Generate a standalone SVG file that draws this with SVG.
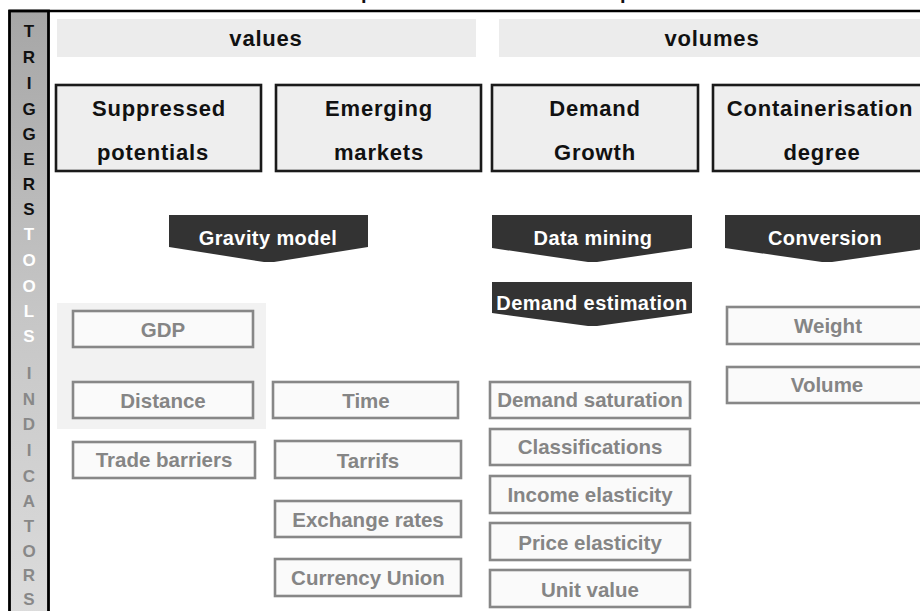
<svg xmlns="http://www.w3.org/2000/svg" width="920" height="611" viewBox="0 0 920 611">
  <defs>
    <linearGradient id="sideGrad" x1="0" y1="0" x2="0" y2="1">
      <stop offset="0" stop-color="#a6a6a6"/>
      <stop offset="0.5" stop-color="#c6c6c6"/>
      <stop offset="1" stop-color="#dcdcdc"/>
    </linearGradient>
    <style>
      text { font-family: "Liberation Sans", Arial, sans-serif; font-weight: bold; }
      .band { fill: #ececec; }
      .bandText { font-size: 22px; fill: #111; text-anchor: middle; letter-spacing: 0.8px; }
      .trigger rect { fill: #eeeeee; stroke: #1a1a1a; stroke-width: 2.6; }
      .trigger text { font-size: 22px; fill: #111; text-anchor: middle; letter-spacing: 0.8px; }
      .tool polygon { fill: #333333; }
      .tool text { font-size: 20px; fill: #ffffff; text-anchor: middle; letter-spacing: 0.4px; }
      .ind rect { fill: #fafafa; stroke: #878787; stroke-width: 2.6; }
      .ind text { font-size: 20.5px; fill: #858585; text-anchor: middle; }
      .side { font-size: 17px; text-anchor: middle; }
    </style>
  </defs>

  <rect width="920" height="611" fill="#ffffff"/>

  <!-- title line sits above the frame; only its descenders fall inside the canvas -->
  <text x="361" y="-1" style="font-size:20px;fill:#111">p</text>
  <text x="620" y="-1" style="font-size:20px;fill:#111">p</text>

  <!-- frame top rule -->
  <line x1="9" y1="11" x2="920" y2="11" stroke="#000" stroke-width="2.6"/>

  <!-- side column -->
  <g id="side-column">
    <rect x="9.5" y="11" width="39" height="605" fill="url(#sideGrad)" stroke="#000" stroke-width="2.8"/>
    <g class="side" fill="#111">
      <text x="29" y="37">T</text>
      <text x="29" y="63">R</text>
      <text x="29" y="89">I</text>
      <text x="29" y="115">G</text>
      <text x="29" y="140">G</text>
      <text x="29" y="165">E</text>
      <text x="29" y="190">R</text>
      <text x="29" y="215">S</text>
    </g>
    <g class="side" fill="#ffffff">
      <text x="29" y="240">T</text>
      <text x="29" y="266">O</text>
      <text x="29" y="292">O</text>
      <text x="29" y="317">L</text>
      <text x="29" y="342">S</text>
    </g>
    <g class="side" fill="#888888">
      <text x="29" y="379">I</text>
      <text x="29" y="405">N</text>
      <text x="29" y="430">D</text>
      <text x="29" y="456">I</text>
      <text x="29" y="482">C</text>
      <text x="29" y="507">A</text>
      <text x="29" y="532">T</text>
      <text x="29" y="557">O</text>
      <text x="29" y="581">R</text>
      <text x="29" y="605">S</text>
    </g>
  </g>

  <!-- value / volume bands -->
  <g id="band-values">
    <rect class="band" x="57" y="19" width="419" height="38"/>
    <text class="bandText" x="266" y="46">values</text>
  </g>
  <g id="band-volumes">
    <rect class="band" x="499" y="19" width="430" height="38"/>
    <text class="bandText" x="712" y="46">volumes</text>
  </g>

  <!-- triggers -->
  <g id="trigger-suppressed" class="trigger">
    <rect x="56" y="85" width="205" height="86"/>
    <text x="159" y="116">Suppressed</text>
    <text x="153" y="160">potentials</text>
  </g>
  <g id="trigger-emerging" class="trigger">
    <rect x="276" y="85" width="205" height="86"/>
    <text x="379" y="116">Emerging</text>
    <text x="379" y="160">markets</text>
  </g>
  <g id="trigger-demand" class="trigger">
    <rect x="492" y="85" width="206" height="86"/>
    <text x="595" y="116">Demand</text>
    <text x="595" y="160">Growth</text>
  </g>
  <g id="trigger-containerisation" class="trigger">
    <rect x="713" y="85" width="220" height="86"/>
    <text x="820" y="116">Containerisation</text>
    <text x="822" y="160">degree</text>
  </g>

  <!-- tools -->
  <g id="tool-gravity" class="tool">
    <polygon points="169,215 368,215 368,247 274,262 264,262 169,247"/>
    <text x="268" y="245">Gravity model</text>
  </g>
  <g id="tool-datamining" class="tool">
    <polygon points="492,215 692,215 692,248 597,262 588,262 492,248"/>
    <text x="593" y="245">Data mining</text>
  </g>
  <g id="tool-conversion" class="tool">
    <polygon points="725,215 930,215 930,248 832,262 822,262 725,248"/>
    <text x="825" y="245">Conversion</text>
  </g>
  <g id="tool-demand-estimation" class="tool">
    <polygon points="492,282 692,282 692,313 597,326 588,326 492,313"/>
    <text x="592" y="310">Demand estimation</text>
  </g>

  <!-- gravity model core inputs -->
  <rect id="gravity-core" x="57" y="303" width="209" height="126" fill="#f2f2f2"/>

  <!-- indicators -->
  <g id="ind-gdp" class="ind">
    <rect x="73" y="311" width="180" height="36"/>
    <text x="163" y="337">GDP</text>
  </g>
  <g id="ind-distance" class="ind">
    <rect x="73" y="382" width="180" height="36"/>
    <text x="163" y="408">Distance</text>
  </g>
  <g id="ind-trade-barriers" class="ind">
    <rect x="73" y="442" width="182" height="36"/>
    <text x="164" y="467">Trade barriers</text>
  </g>
  <g id="ind-time" class="ind">
    <rect x="273" y="382" width="185" height="36"/>
    <text x="366" y="408">Time</text>
  </g>
  <g id="ind-tarrifs" class="ind">
    <rect x="275" y="441" width="186" height="37"/>
    <text x="368" y="468">Tarrifs</text>
  </g>
  <g id="ind-exchange" class="ind">
    <rect x="275" y="501" width="186" height="36"/>
    <text x="368" y="527">Exchange rates</text>
  </g>
  <g id="ind-currency" class="ind">
    <rect x="275" y="559" width="186" height="37"/>
    <text x="368" y="585">Currency Union</text>
  </g>
  <g id="ind-saturation" class="ind">
    <rect x="490" y="382" width="200" height="36"/>
    <text x="590" y="407">Demand saturation</text>
  </g>
  <g id="ind-classifications" class="ind">
    <rect x="490" y="429" width="200" height="36"/>
    <text x="590" y="454">Classifications</text>
  </g>
  <g id="ind-income" class="ind">
    <rect x="490" y="476" width="200" height="37"/>
    <text x="590" y="502">Income elasticity</text>
  </g>
  <g id="ind-price" class="ind">
    <rect x="490" y="523" width="200" height="37"/>
    <text x="590" y="550">Price elasticity</text>
  </g>
  <g id="ind-unit-value" class="ind">
    <rect x="490" y="570" width="200" height="37"/>
    <text x="590" y="597">Unit value</text>
  </g>
  <g id="ind-weight" class="ind">
    <rect x="727" y="307" width="205" height="37"/>
    <text x="828" y="333">Weight</text>
  </g>
  <g id="ind-volume" class="ind">
    <rect x="727" y="367" width="205" height="36"/>
    <text x="827" y="392">Volume</text>
  </g>

  <g id="connectors"/>
</svg>
